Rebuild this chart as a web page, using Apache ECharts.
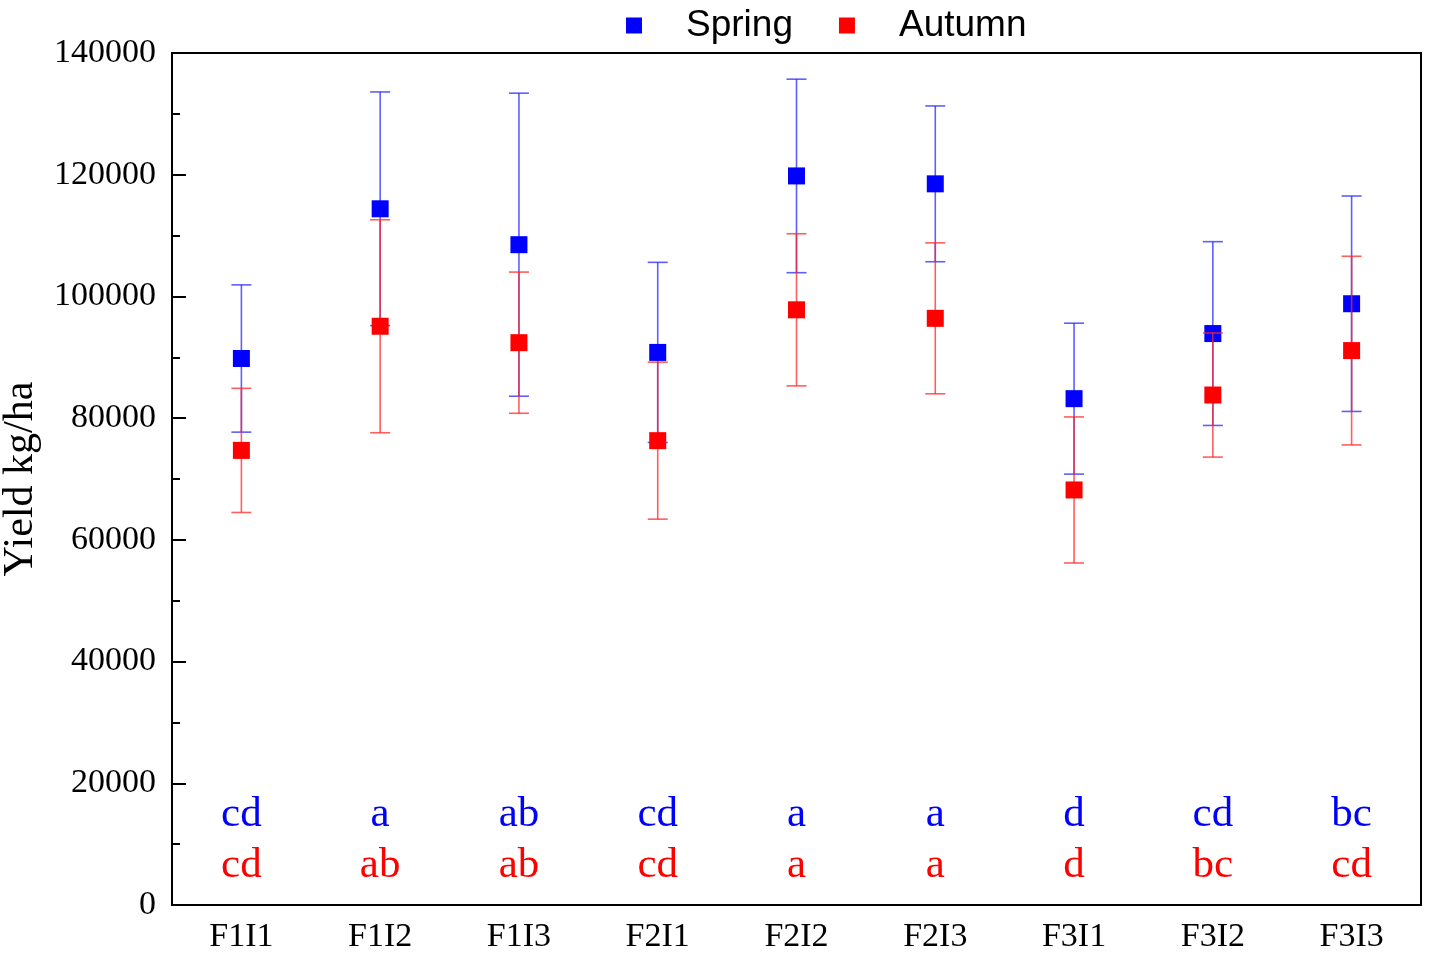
<!DOCTYPE html>
<html>
<head>
<meta charset="utf-8">
<script src="https://cdn.jsdelivr.net/npm/echarts/dist/echarts.min.js"></script>
<style>
  html, body { margin: 0; padding: 0; background: #fff; }
  #main { width: 1429px; height: 955px; }
</style>
</head>
<body>
<div id="main"></div>
<script>
// treatments along the x axis
const categories = ['F1I1', 'F1I2', 'F1I3', 'F2I1', 'F2I2', 'F2I3', 'F3I1', 'F3I2', 'F3I3'];

// mean yield (kg/ha) and error (+/-)
const springMean = [89800, 114400, 108500, 90800, 119800, 118500, 83200, 93900, 98800];
const springErr = [12100, 19200, 24900, 14800, 15900, 12800, 12400, 15100, 17700];
const autumnMean = [74700, 95100, 92400, 76300, 97800, 96400, 68200, 83800, 91100];
const autumnErr = [10200, 17500, 11600, 12900, 12500, 12400, 12000, 10200, 15500];

// significance letters
const springLetters = ['cd', 'a', 'ab', 'cd', 'a', 'a', 'd', 'cd', 'bc'];
const autumnLetters = ['cd', 'ab', 'ab', 'cd', 'a', 'a', 'd', 'bc', 'cd'];

const yMin = 0, yMax = 140000, yStep = 20000;
const springLetterRow = 14800;
const autumnLetterRow = 6500;

const BLUE = '#0000ff';
const RED = '#ff0000';
const serif = 'Liberation Serif';

const chart = echarts.init(document.getElementById('main'), null, { renderer: 'canvas' });

function errData(mean, err) {
  return mean.map((m, i) => [i, m - err[i], m + err[i]]);
}

function errorBar(color) {
  return function (params, api) {
    const i = api.value(0);
    const lo = api.coord([i, api.value(1)]);
    const hi = api.coord([i, api.value(2)]);
    const half = 10;
    const style = { stroke: color, lineWidth: 1.6 };
    return {
      type: 'group',
      children: [
        { type: 'line', shape: { x1: hi[0], y1: hi[1], x2: lo[0], y2: lo[1] }, style: style },
        { type: 'line', shape: { x1: hi[0] - half, y1: hi[1], x2: hi[0] + half, y2: hi[1] }, style: style },
        { type: 'line', shape: { x1: lo[0] - half, y1: lo[1], x2: lo[0] + half, y2: lo[1] }, style: style }
      ]
    };
  };
}

function letterSeries(name, row, letters, color) {
  return {
    name: name,
    type: 'scatter',
    symbolSize: 0,
    silent: true,
    z: 5,
    itemStyle: { opacity: 1 },
    data: letters.map((t, i) => [i, row]),
    label: {
      show: true,
      position: 'inside',
      formatter: p => letters[p.dataIndex],
      color: color,
      opacity: 1,
      fontFamily: serif,
      fontSize: 43
    }
  };
}

chart.setOption({
  backgroundColor: '#fff',
  animation: false,
  legend: {
    left: 621,
    top: 2,
    itemWidth: 16,
    itemHeight: 16,
    itemGap: 46,
    data: [{ name: 'Spring', icon: 'rect' }, { name: 'Autumn', icon: 'rect' }],
    textStyle: {
      fontFamily: 'Liberation Sans',
      fontSize: 37,
      color: '#000',
      padding: [0, 0, 0, 39]
    }
  },
  grid: {
    left: 172,
    right: 8,
    top: 53,
    bottom: 50,
    outerBoundsMode: 'none',
    containLabel: false,
    show: true,
    borderColor: '#000',
    borderWidth: 2,
    backgroundColor: 'transparent'
  },
  xAxis: [
    {
      type: 'category',
      data: categories,
      boundaryGap: true,
      axisLine: { lineStyle: { color: '#000', width: 2 } },
      axisTick: { inside: true, length: 13, alignWithLabel: true, interval: 0, lineStyle: { color: '#000', width: 2 } },
      axisLabel: { interval: 0, margin: 15, color: '#000', fontFamily: serif, fontSize: 34 }
    },
    {
      type: 'category',
      data: categories,
      position: 'bottom',
      boundaryGap: true,
      axisLine: { show: false },
      axisTick: { inside: true, length: 7, interval: 0, lineStyle: { color: '#000', width: 2 } },
      axisLabel: { show: false }
    }
  ],
  yAxis: {
    type: 'value',
    min: yMin,
    max: yMax,
    interval: yStep,
    name: 'Yield kg/ha',
    nameLocation: 'middle',
    nameGap: 130,
    nameTextStyle: { fontFamily: serif, fontSize: 42, color: '#000' },
    axisLine: { show: true, lineStyle: { color: '#000', width: 2 } },
    axisTick: { show: true, inside: true, length: 14, lineStyle: { color: '#000', width: 2 } },
    minorTick: { show: true, splitNumber: 2, length: 8, lineStyle: { color: '#000', width: 2 } },
    splitLine: { show: false },
    axisLabel: {
      margin: 16,
      color: '#000',
      fontFamily: serif,
      fontSize: 34,
      formatter: v => String(v)
    }
  },
  series: [
    {
      name: 'Spring error',
      type: 'custom',
      z: 1,
      renderItem: errorBar('rgba(40,40,255,0.75)'),
      encode: { x: 0, y: [1, 2] },
      data: errData(springMean, springErr)
    },
    {
      name: 'Spring',
      type: 'scatter',
      z: 2,
      symbol: 'rect',
      symbolSize: 17,
      itemStyle: { color: BLUE, opacity: 1 },
      data: springMean.map((v, i) => [i, v])
    },
    {
      name: 'Autumn error',
      type: 'custom',
      z: 3,
      renderItem: errorBar('rgba(255,40,40,0.75)'),
      encode: { x: 0, y: [1, 2] },
      data: errData(autumnMean, autumnErr)
    },
    {
      name: 'Autumn',
      type: 'scatter',
      z: 4,
      symbol: 'rect',
      symbolSize: 17,
      itemStyle: { color: RED, opacity: 1 },
      data: autumnMean.map((v, i) => [i, v])
    },
    letterSeries('springLetters', springLetterRow, springLetters, BLUE),
    letterSeries('autumnLetters', autumnLetterRow, autumnLetters, RED)
  ]
});
</script>
</body>
</html>
